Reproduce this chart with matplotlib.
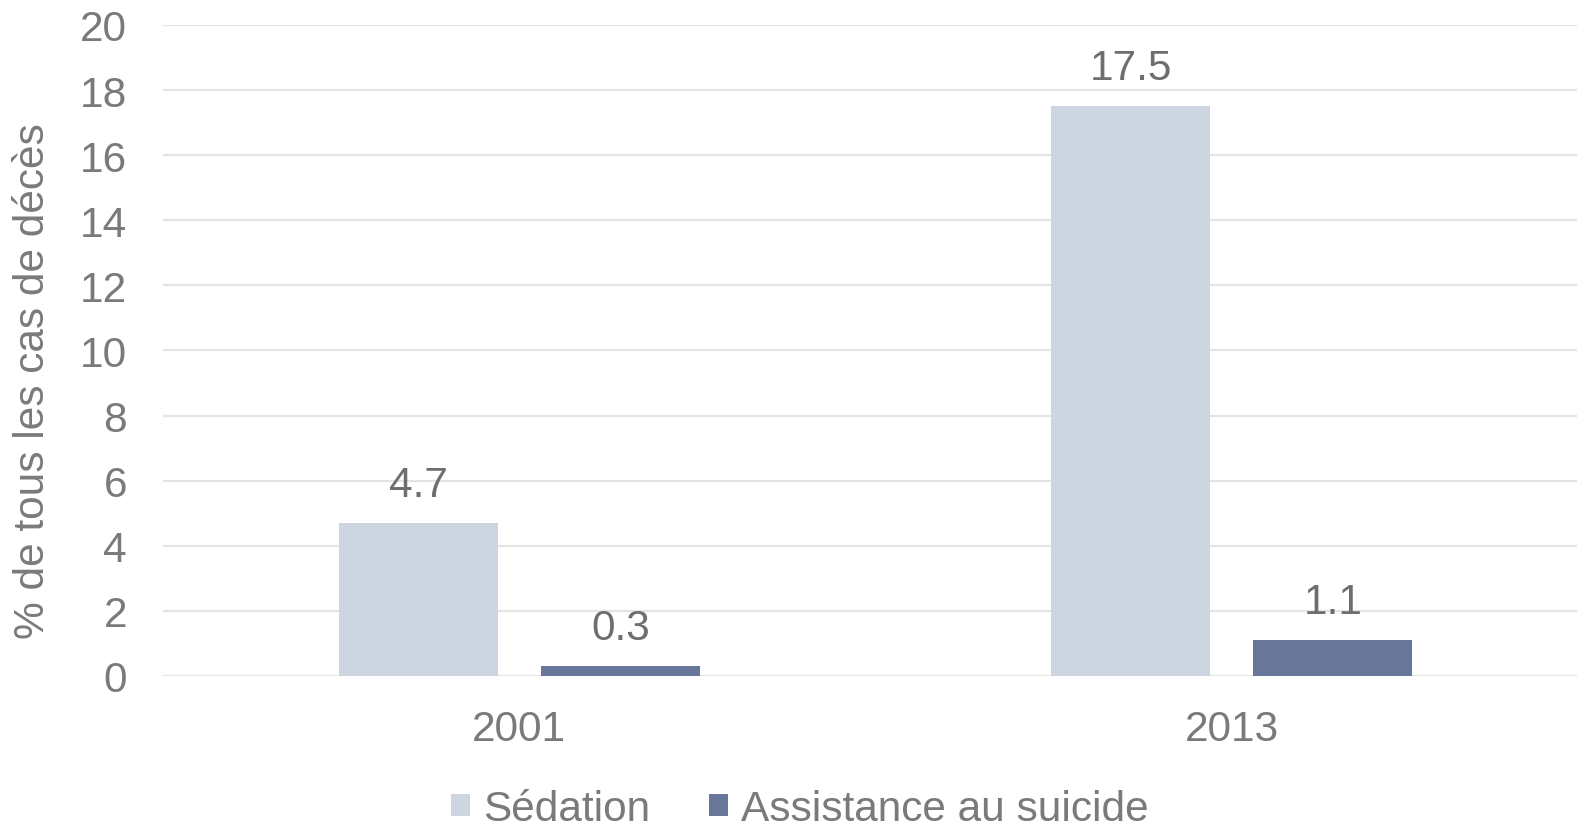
import numpy as np
import matplotlib
matplotlib.use("Agg")
import matplotlib.pyplot as plt
from matplotlib.patches import Patch

# Data
years = ["2001", "2013"]
series = ["Sédation", "Assistance au suicide"]
sedation = [4.7, 17.5]
assistance = [0.3, 1.1]
yticks = [0, 2, 4, 6, 8, 10, 12, 14, 16, 18, 20]

colors = ["#CDD5E0", "#68769A"]
text_gray = "#7A7A7A"
label_gray = "#6E6E6E"

plt.rcParams['font.family'] = ['Liberation Sans', 'DejaVu Sans']

W, H = 1577, 828
FS = 30.5
fig = plt.figure(figsize=(W / 100, H / 100), dpi=100)
# plot area runs slightly past the right edge, like the original
ax = fig.add_axes([163 / W, (H - 677) / H, (1588 - 163) / W, (677 - 26) / H])

x = np.arange(len(years))
bw = 0.223
off = 0.142

for vals, dx, c in [(sedation, -off, colors[0]), (assistance, off, colors[1])]:
    bars = ax.bar(x + dx, vals, width=bw, color=c, zorder=3)
    for b, v in zip(bars, vals):
        ax.annotate(f"{v}", (b.get_x() + b.get_width() / 2, v),
                    xytext=(0, 13), textcoords="offset points",
                    ha="center", va="bottom", fontsize=FS, color=label_gray)

ax.set_xlim(-0.5, 1.5)
ax.set_ylim(0, 20)
ax.set_yticks(yticks)
ax.set_xticks(x)
ax.set_xticklabels(years)
ax.tick_params(axis="both", length=0, labelsize=FS, labelcolor=text_gray)
ax.tick_params(axis="y", pad=26)
ax.tick_params(axis="x", pad=24)
ax.yaxis.grid(True, color="#E4E4E4", linewidth=1.6, zorder=0)
for s in ax.spines.values():
    s.set_visible(False)

fig.text(33 / W, 1 - 381 / H, "% de tous les cas de décès", rotation=90,
         ha="center", va="center", fontsize=FS, color=text_gray)

handles = [Patch(facecolor=c, edgecolor="none") for c in colors]
fig.legend(handles, series, loc="center", bbox_to_anchor=(800 / W, 1 - 810 / H),
           ncol=2, frameon=False, fontsize=FS, labelcolor=text_gray,
           handlelength=0.45, handleheight=0.45, handletextpad=0.3,
           columnspacing=1.4)

fig.savefig("out.png", dpi=100)
